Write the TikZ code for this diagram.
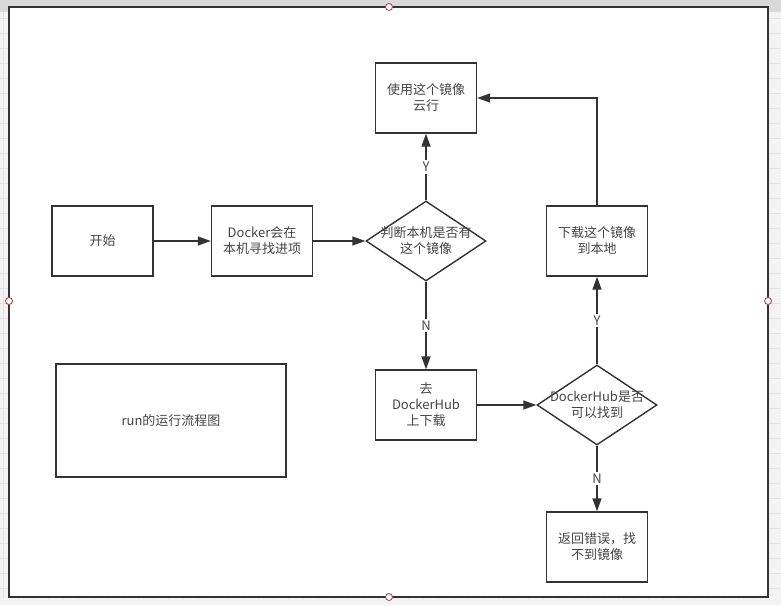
\documentclass[tikz,border=0pt]{standalone}
\usepackage{fontspec}
\setmainfont{Noto Sans CJK SC}
\usetikzlibrary{arrows.meta,shapes.geometric}
\definecolor{linegray}{HTML}{333333}
\definecolor{textgray}{HTML}{454545}
\definecolor{bggray}{HTML}{F3F3F3}
\definecolor{gridgray}{HTML}{E2E2E2}
\definecolor{handlered}{HTML}{A83A3A}
\newcommand{\flowfont}{\fontsize{13}{16}\selectfont}
\tikzset{
  stepbox/.style={draw=linegray,line width=1.4pt,fill=white,minimum width=101pt,minimum height=70pt,inner sep=2pt,align=center,text=textgray,font=\flowfont},
  decide/.style={diamond,draw=linegray,line width=1.4pt,fill=white,minimum width=120pt,minimum height=80pt,inner sep=0pt},
  flow/.style={draw=linegray,line width=1.4pt,-{Triangle[length=13pt,width=9pt]}},
  yn/.style={fill=white,text=textgray,inner sep=2pt,font=\flowfont},
  handle/.style={draw=handlered,fill=white,line width=0.8pt}
}

\begin{document}
\begin{tikzpicture}[x=1pt,y=-1pt]
\useasboundingbox (0,0) rectangle (781,605);
%background
\fill[bggray] (0,0) rectangle (781,605);
\foreach \y in {3,18,...,603} \draw[gridgray,line width=0.8pt] (0,\y)--(781,\y);
\foreach \x in {3,18,...,780} \draw[gridgray,line width=0.8pt] (\x,0)--(\x,605);
\fill[gray!30] (0,0) rectangle (781,12); \fill[bggray] (0,599) rectangle (781,605);
\draw[draw=linegray,line width=2.5pt,fill=white] (9,7) rectangle (768,597);

%nodes
\node[stepbox] (start) at (102.5,241) {开始};
\node[stepbox] (lookup) at (262,241) {Docker会在\\本机寻找进项};
\node[decide,label={[align=center,text=textgray,font=\flowfont]center:判断本机是否有\\这个镜像}] (haslocal) at (426,241) {};
\node[stepbox] (runimg) at (426,98) {使用这个镜像\\云行};
\node[stepbox] (gohub) at (426,405) {去\\DockerHub\\上下载};
\node[decide,label={[align=center,text=textgray,font=\flowfont]center:DockerHub是否\\可以找到}] (hubfound) at (597,405) {};
\node[stepbox] (pullimg) at (597,241) {下载这个镜像\\到本地};
\node[stepbox] (fail) at (597,547) {返回错误，找\\不到镜像};
\node[stepbox,minimum width=230pt,minimum height=113pt] (title) at (171,420.5) {run的运行流程图};

%connectors
\draw[flow] (start)--(lookup); \draw[flow] (lookup)--(haslocal);
\draw[flow] (haslocal)-- node[yn]{Y} (runimg);
\draw[flow] (haslocal)-- node[yn]{N} (gohub);
\draw[flow] (gohub)--(hubfound);
\draw[flow] (hubfound)-- node[yn]{Y} (pullimg);
\draw[flow] (hubfound)-- node[yn]{N} (fail);
\draw[flow] (pullimg.north)|-(runimg.east);

%handles
\foreach \p in {(389,7),(9,301),(768,301),(389,597)} \draw[handle] \p circle (3.5);
\end{tikzpicture}
\end{document}
